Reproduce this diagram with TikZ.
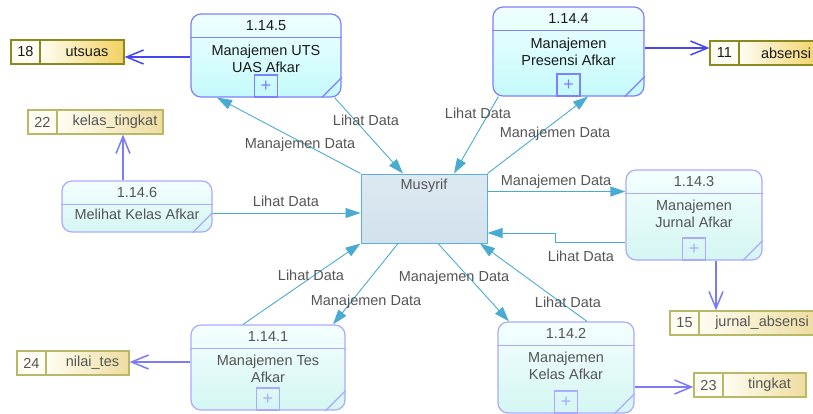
\documentclass[tikz,border=0pt]{standalone}
\usepackage{fontspec}
\setmainfont{Liberation Sans}
\usepackage{xcolor}
\usetikzlibrary{arrows.meta, positioning, calc}
\definecolor{procdraw}{HTML}{7F7FFF}
\definecolor{procdrawlt}{HTML}{AAAAFF}
\definecolor{proctop}{HTML}{F0FFFF}
\definecolor{procbot}{HTML}{C4FAFC}
\definecolor{proctoplt}{HTML}{F4FFFF}
\definecolor{procbotlt}{HTML}{D4F6F2}
\definecolor{proctext}{HTML}{1A1A1A}
\definecolor{proctextlt}{HTML}{555555}
\definecolor{extdraw}{HTML}{5AB0D6}
\definecolor{exttop}{HTML}{DDE9F2}
\definecolor{extbot}{HTML}{D2E1EC}
\definecolor{flowcol}{HTML}{4AABD2}
\definecolor{sflowcol}{HTML}{4646F0}
\definecolor{sflowcollt}{HTML}{7B7BF5}
\definecolor{storedraw}{HTML}{8A8A20}
\definecolor{storedrawlt}{HTML}{B8B866}
\definecolor{storewhite}{HTML}{FFFDF3}
\definecolor{storegold}{HTML}{F2D060}
\definecolor{storegoldlt}{HTML}{EEDDA0}
\definecolor{storetext}{HTML}{1A1A1A}
\definecolor{storetextlt}{HTML}{555555}
\definecolor{lblcol}{HTML}{555555}

% process box: name, centre, width, height, number, text, colour suffix, text offset
\newcommand{\dfdproc}[8]{%
  \node[proc, draw=procdraw#7, top color=proctop#7, bottom color=procbot#7,
        minimum width=#3, minimum height=#4] (#1) at #2 {};
  \draw[procline, draw=procdraw#7] ([yshift=-24]#1.north west) -- ([yshift=-24]#1.north east);
  \draw[procline, draw=procdraw#7] ([xshift=-20]#1.south east) -- ([yshift=20]#1.south east);
  \node[proctxt, text=proctext#7] (#1-no)  at ([yshift=-12]#1.north) {#5};
  \node[proctxt, text=proctext#7] (#1-txt) at ([yshift=-#8]#1.north) {#6};
}
% data store: name, centre, width, number, label, colour suffix
\newcommand{\dfdstore}[6]{%
  \node[storebox, draw=storedraw#6, minimum width=#3] (#1) at #2 {};
  \node[storecell, draw=storedraw#6, text=storetext#6, anchor=west, minimum width=29] (#1-no) at (#1.west) {#4};
  \node[storecell, draw=storedraw#6, text=storetext#6, anchor=east, minimum width=#3-29,
        left color=storewhite, right color=storegold#6] (#1-nm) at (#1.east) {\hspace*{10pt}#5};
}

\begin{document}
\begin{tikzpicture}[
  x=1pt, y=-1pt,
  proc/.style     = {rectangle, rounded corners=10pt, line width=1.2pt, inner sep=0pt},
  procline/.style = {line width=1.2pt},
  proctxt/.style  = {font=\fontsize{14.5}{17}\selectfont, align=center, inner sep=0pt},
  plusbox/.style  = {rectangle, minimum width=23pt, minimum height=22pt, inner sep=0pt,
                     line width=1.2pt, font=\fontsize{18}{18}\selectfont},
  ext/.style      = {rectangle, draw=extdraw, line width=1pt, top color=exttop, bottom color=extbot,
                     minimum width=126pt, minimum height=69pt, inner sep=0pt},
  storebox/.style = {rectangle, fill=storewhite, line width=1.2pt, minimum height=24pt, inner sep=0pt},
  storecell/.style= {rectangle, line width=1.2pt, minimum height=24pt, inner sep=0pt,
                     font=\fontsize{14.5}{17}\selectfont},
  flow/.style     = {-{Triangle[length=15pt, width=10pt]}, draw=flowcol, line width=0.9pt},
  sflow/.style    = {-{Straight Barb[length=17pt, width=14pt]}, line width=1.5pt},
  lbl/.style      = {font=\fontsize{14.5}{17}\selectfont, text=lblcol, inner sep=0pt, anchor=base},
]
  \useasboundingbox (0,0) rectangle (813,413);
  \clip (0,0) rectangle (813,413);

  % processes
  \dfdproc{p5}{(266,55.5)}{150}{83}{1.14.5}{Manajemen UTS\\UAS Afkar}{}{45}
  \dfdproc{p4}{(568.5,51.5)}{151}{89}{1.14.4}{Manajemen\\Presensi Afkar}{}{45}
  \dfdproc{p3}{(694,215)}{136}{90}{1.14.3}{Manajemen\\Jurnal Afkar}{lt}{44}
  \dfdproc{p6}{(137,206.5)}{150}{51}{1.14.6}{Melihat Kelas Afkar}{lt}{34}
  \dfdproc{p1}{(268,367.5)}{154}{85}{1.14.1}{Manajemen Tes\\Afkar}{lt}{44}
  \dfdproc{p2}{(566,367.5)}{136}{91}{1.14.2}{Manajemen\\Kelas Afkar}{lt}{44}

  \node[plusbox, draw=procdraw, text=procdraw, anchor=south]     (p5-plus) at (p5.south) {+};
  \node[plusbox, draw=procdraw, text=procdraw, anchor=south]     (p4-plus) at (p4.south) {+};
  \node[plusbox, draw=procdrawlt, text=procdrawlt, anchor=south] (p3-plus) at (p3.south) {+};
  \node[plusbox, draw=procdrawlt, text=procdrawlt, anchor=south] (p1-plus) at (p1.south) {+};
  \node[plusbox, draw=procdrawlt, text=procdrawlt, anchor=south] (p2-plus) at (p2.south) {+};

  % external entity
  \node[ext] (ms) at (424,208.5) {};
  \node[proctxt, text=proctextlt] (ms-txt) at ([yshift=-12]ms.north) {Musyrif};

  % data stores
  \dfdstore{s18}{(67.5,52)}{113}{18}{utsuas}{}
  \dfdstore{s11}{(766.5,53)}{113}{11}{absensi}{}
  \dfdstore{s22}{(95.5,122)}{135}{22}{kelas\_tingkat}{lt}
  \dfdstore{s15}{(742.5,323)}{145}{15}{jurnal\_absensi}{lt}
  \dfdstore{s24}{(73,363)}{112}{24}{nilai\_tes}{lt}
  \dfdstore{s23}{(750,385)}{112}{23}{tingkat}{lt}

  % data flows
  \draw[flow] (ms.north west) -- ([xshift=-49]p5.south);
  \draw[flow] ([xshift=-7]p5.south east) -- ([xshift=-21]ms.north);
  \draw[flow] ([xshift=6]p4.south west) -- ([xshift=30]ms.north);
  \draw[flow] (ms.north east) -- ([xshift=19.5]p4.south);
  \draw[flow] ([yshift=-18]ms.north east) -- ([yshift=-18]ms.north east -| p3.west);
  \draw[flow] ([yshift=-27]p3.west) -- ++(-70,0) |- ([yshift=-24.5]ms.east);
  \draw[flow] ([yshift=-4.5]ms.west -| p6.east) -- ([yshift=-4.5]ms.west);
  \draw[flow] ([xshift=-25]p1.north) -- (ms.south west);
  \draw[flow] ([xshift=-26]ms.south) -- ([xshift=65]p1.north);
  \draw[flow] ([xshift=14]ms.south) -- ([xshift=-57]p2.north);
  \draw[flow] ([xshift=21]p2.north) -- ([xshift=56]ms.south);

  \draw[sflow, draw=sflowcol]   ([yshift=-1.5]p5.west) -- ([yshift=-1.5]p5.west -| s18.east);
  \draw[sflow, draw=sflowcol]   ([yshift=3.5]p4.east) -- ([yshift=3.5]p4.east -| s11.west);
  \draw[sflow, draw=sflowcollt] ([xshift=-14]p6.north) -- ([xshift=-14]p6.north |- s22.south);
  \draw[sflow, draw=sflowcollt] ([xshift=22]p3.south) -- ([xshift=22]p3.south |- s15.north);
  \draw[sflow, draw=sflowcollt] ([yshift=5.5]p1.west) -- ([yshift=5.5]p1.west -| s24.east);
  \draw[sflow, draw=sflowcollt] ([yshift=-19.5]p2.east) -- ([yshift=-19.5]p2.east -| s23.west);

  % flow labels
  \node[lbl] (l1)  at (300,148) {Manajemen Data};
  \node[lbl] (l2)  at (366,125) {Lihat Data};
  \node[lbl] (l3)  at (478,118) {Lihat Data};
  \node[lbl] (l4)  at (555,137) {Manajemen Data};
  \node[lbl] (l5)  at (556,185) {Manajemen Data};
  \node[lbl] (l6)  at (581,261) {Lihat Data};
  \node[lbl] (l7)  at (286,206) {Lihat Data};
  \node[lbl] (l8)  at (311,280) {Lihat Data};
  \node[lbl] (l9)  at (366,305) {Manajemen Data};
  \node[lbl] (l10) at (454,281) {Manajemen Data};
  \node[lbl] (l11) at (568,307) {Lihat Data};
\end{tikzpicture}
\end{document}
